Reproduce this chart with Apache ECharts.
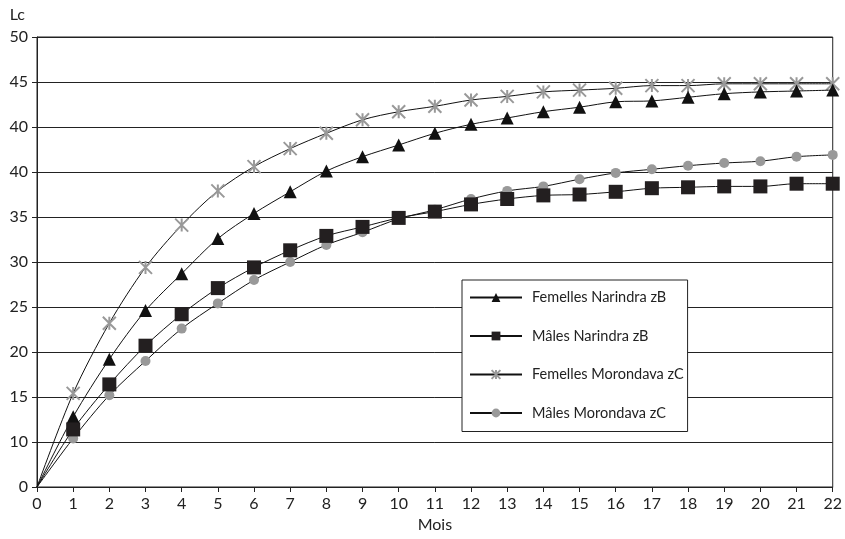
<!DOCTYPE html>
<html>
<head>
<meta charset="utf-8">
<script src="https://cdn.jsdelivr.net/npm/echarts@6/dist/echarts.min.js"></script>
<style>
  html, body { margin: 0; padding: 0; background: #fff; }
  #main { width: 845px; height: 539px; }
</style>
</head>
<body>
<div id="main"></div>
<script>
// months 0..22
const months = ['0','1','2','3','4','5','6','7','8','9','10','11','12','13','14','15','16','17','18','19','20','21','22']
// y tick labels as printed (one per 5-unit step)
const yLabels = ['0','10','15','20','25','30','35','40','40','45','50']

const femNarindra = [0, 7.8, 14.2, 19.6, 23.7, 27.6, 30.4, 32.8, 35.1, 36.7, 38.0, 39.3, 40.3, 41.0, 41.7, 42.2, 42.8, 42.9, 43.3, 43.7, 43.9, 44.0, 44.1]
const malNarindra = [0, 6.4, 11.4, 15.7, 19.2, 22.1, 24.4, 26.3, 27.9, 28.9, 29.9, 30.6, 31.4, 32.0, 32.4, 32.5, 32.8, 33.2, 33.3, 33.4, 33.4, 33.7, 33.7]
const femMorondava = [0, 10.4, 18.2, 24.4, 29.1, 32.9, 35.6, 37.6, 39.3, 40.8, 41.7, 42.3, 43.0, 43.4, 43.9, 44.1, 44.3, 44.6, 44.6, 44.8, 44.8, 44.8, 44.8]
const malMorondava = [0, 5.4, 10.2, 14.0, 17.6, 20.4, 23.0, 25.0, 26.9, 28.3, 29.8, 30.8, 32.0, 32.9, 33.4, 34.2, 34.9, 35.3, 35.7, 36.0, 36.2, 36.7, 36.9]

const font = 'Lato, "DejaVu Sans", sans-serif'
const gray = '#999999'
const star = 'path://M0,0L10,10M10,0L0,10M5,0L5,10'

// no marker on the origin point
function pts(arr) {
  return arr.map(function (v, i) {
    return i === 0 ? { value: v, symbol: 'none' } : v
  })
}

var myChart = echarts.init(document.getElementById('main'))

var option = {
  animation: false,
  backgroundColor: '#fff',
  textStyle: { fontFamily: font },
  grid: {
    left: 37,
    right: 9,
    top: 37,
    bottom: 52,
    show: true,
    borderColor: '#222',
    borderWidth: 1
  },
  legend: {
    orient: 'vertical',
    left: 462,
    top: 280,
    padding: [10, 4, 11, 7],
    itemWidth: 52,
    itemHeight: 11,
    itemGap: 23.5,
    borderColor: '#222',
    borderWidth: 1,
    backgroundColor: '#fff',
    textStyle: { fontFamily: font, fontSize: 14.5, color: '#222', padding: [0, 0, 0, 5] },
    data: ['Femelles Narindra zB', 'Mâles Narindra zB', 'Femelles Morondava zC', 'Mâles Morondava zC']
  },
  xAxis: {
    type: 'category',
    data: months,
    boundaryGap: false,
    name: 'Mois',
    nameLocation: 'middle',
    nameGap: 30,
    nameTextStyle: { fontFamily: font, fontSize: 16, color: '#222' },
    axisLine: { lineStyle: { color: '#222', width: 1 } },
    axisTick: { alignWithLabel: true, length: 5, lineStyle: { color: '#222' } },
    axisLabel: { fontFamily: font, fontSize: 16, color: '#222', margin: 9, interval: 0 },
    splitLine: { show: false }
  },
  yAxis: {
    type: 'value',
    min: 0,
    max: 50,
    interval: 5,
    name: 'Lc',
    nameLocation: 'end',
    nameGap: 14,
    nameTextStyle: { fontFamily: font, fontSize: 16, color: '#222', align: 'right', padding: [0, 12, 0, 0] },
    axisLine: { show: true, lineStyle: { color: '#222', width: 1 } },
    axisTick: { show: true, length: 5, lineStyle: { color: '#222' } },
    axisLabel: {
      fontFamily: font,
      fontSize: 16,
      color: '#222',
      margin: 9,
      formatter: function (v) { return yLabels[Math.round(v / 5)] }
    },
    splitLine: { show: true, lineStyle: { color: '#222', width: 1 } }
  },
  series: [
    {
      name: 'Femelles Narindra zB',
      type: 'line',
      smooth: 0.3,
      data: pts(femNarindra),
      symbol: 'triangle',
      symbolSize: 13,
      showAllSymbol: true,
      z: 3,
      lineStyle: { color: '#111', width: 1 },
      itemStyle: { color: '#111' }
    },
    {
      name: 'Mâles Narindra zB',
      type: 'line',
      smooth: 0.3,
      data: pts(malNarindra),
      symbol: 'rect',
      symbolSize: 14,
      showAllSymbol: true,
      z: 4,
      lineStyle: { color: '#111', width: 1 },
      itemStyle: { color: '#231f20' }
    },
    {
      name: 'Femelles Morondava zC',
      type: 'line',
      smooth: 0.3,
      data: pts(femMorondava),
      symbol: star,
      symbolSize: 13,
      showAllSymbol: true,
      z: 2,
      lineStyle: { color: '#111', width: 1 },
      itemStyle: { color: 'rgba(0,0,0,0)', borderColor: gray, borderWidth: 2 }
    },
    {
      name: 'Mâles Morondava zC',
      type: 'line',
      smooth: 0.3,
      data: pts(malMorondava),
      symbol: 'circle',
      symbolSize: 10,
      showAllSymbol: true,
      z: 2,
      lineStyle: { color: '#111', width: 1 },
      itemStyle: { color: gray }
    }
  ]
}

option && myChart.setOption(option)
</script>
</body>
</html>
